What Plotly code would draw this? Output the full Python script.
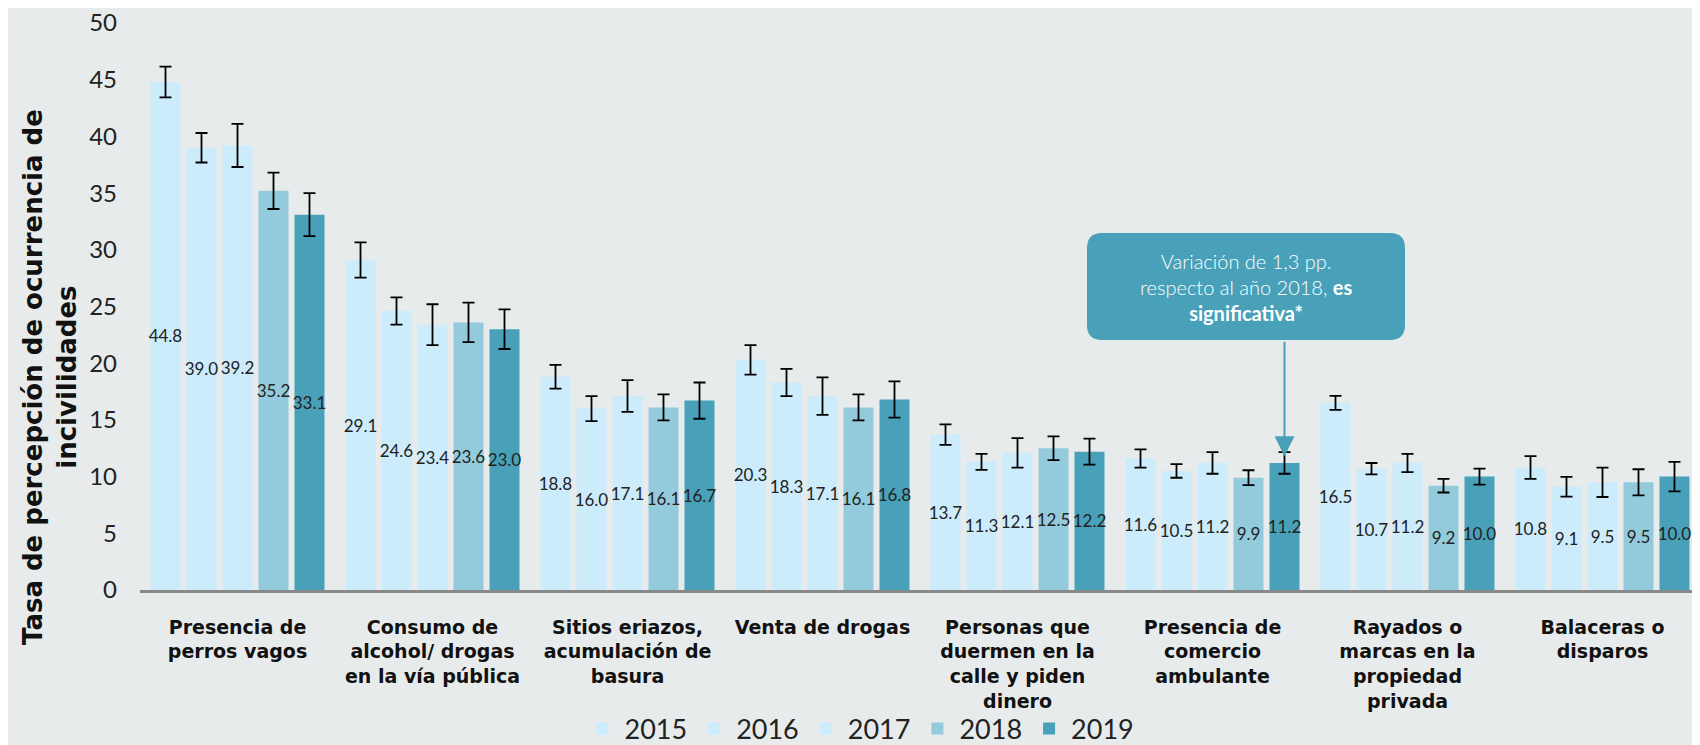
import plotly.graph_objects as go

# categories and series
categories = [
    "Presencia de<br>perros vagos",
    "Consumo de<br>alcohol/ drogas<br>en la vía pública",
    "Sitios eriazos,<br>acumulación de<br>basura",
    "Venta de drogas",
    "Personas que<br>duermen en la<br>calle y piden<br>dinero",
    "Presencia de<br>comercio<br>ambulante",
    "Rayados o<br>marcas en la<br>propiedad<br>privada",
    "Balaceras o<br>disparos",
]
years = ["2015", "2016", "2017", "2018", "2019"]

v2015 = [44.8, 29.1, 18.8, 20.3, 13.7, 11.6, 16.5, 10.8]
v2016 = [39.0, 24.6, 16.0, 18.3, 11.3, 10.5, 10.7, 9.1]
v2017 = [39.2, 23.4, 17.1, 17.1, 12.1, 11.2, 11.2, 9.5]
v2018 = [35.2, 23.6, 16.1, 16.1, 12.5, 9.9, 9.2, 9.5]
v2019 = [33.1, 23.0, 16.7, 16.8, 12.2, 11.2, 10.0, 10.0]

# half-width of the confidence intervals (error bars)
e2015 = [1.35, 1.55, 1.05, 1.3, 0.9, 0.8, 0.62, 1.0]
e2016 = [1.3, 1.2, 1.1, 1.2, 0.7, 0.6, 0.5, 0.87]
e2017 = [1.9, 1.8, 1.4, 1.65, 1.3, 0.95, 0.8, 1.3]
e2018 = [1.6, 1.75, 1.15, 1.15, 1.05, 0.66, 0.6, 1.15]
e2019 = [1.9, 1.75, 1.6, 1.6, 1.15, 0.95, 0.7, 1.3]

values = [v2015, v2016, v2017, v2018, v2019]
errors = [e2015, e2016, e2017, e2018, e2019]
colors = ["#CCEBFB", "#CCEBFB", "#CCEBFB", "#93CBDC", "#48A1B9"]

BG = "#E7EBEC"
TEAL = "#48A1B9"
BARGAP = 0.077

fig = go.Figure()
for year, vals, errs, col in zip(years, values, errors, colors):
    fig.add_trace(go.Bar(
        x=categories,
        y=vals,
        name=year,
        marker=dict(color=col, line=dict(width=0)),
        error_y=dict(type="data", array=errs, visible=True,
                     color="black", thickness=1.8, width=6),
        text=[f"{v:.1f}" for v in vals],
        textposition="inside",
        insidetextanchor="middle",
        textangle=0,
        constraintext="none",
        textfont=dict(family="Lato", size=17, color="#222222"),
    ))

# the page body adds an 8px offset, so the figure is a bit smaller
OFF = 8
W, H = 1700 - OFF, 745 - OFF
L, R, T, B = 140 - OFF, 0, 23 - OFF, 155
pw, ph = W - L - R, H - T - B


def to_paper(px, py):
    # screen pixel -> paper coordinates
    return (px - OFF - L) / pw, (H - B - (py - OFF)) / ph


# rounded callout box
x0, y1 = to_paper(1087, 233)
x1, y0 = to_paper(1405, 340)
rx, ry = 15 / pw, 15 / ph
box_path = (
    f"M {x0 + rx},{y1} L {x1 - rx},{y1} Q {x1},{y1} {x1},{y1 - ry} "
    f"L {x1},{y0 + ry} Q {x1},{y0} {x1 - rx},{y0} "
    f"L {x0 + rx},{y0} Q {x0},{y0} {x0},{y0 + ry} "
    f"L {x0},{y1 - ry} Q {x0},{y1} {x0 + rx},{y1} Z"
)
cx, cy = to_paper(1246, 287)
tx, ty = to_paper(50, 377)
lx, ly = to_paper(860, 729)

# x position of the 2019 bar inside the "comercio ambulante" group
slot = (1 - BARGAP) / len(years)
arrow_x = 5 - (1 - BARGAP) / 2 + slot * 4.5

fig.update_layout(
    width=W, height=H,
    paper_bgcolor=BG, plot_bgcolor=BG,
    margin=dict(l=L, r=R, t=T, b=B, autoexpand=False),
    barmode="group",
    bargap=BARGAP,
    bargroupgap=0.167,
    font=dict(family="Lato", color="#222222"),
    showlegend=True,
    legend=dict(
        orientation="h",
        x=lx, xanchor="center",
        y=ly, yanchor="middle",
        font=dict(family="Lato", size=27, color="#222222"),
        bgcolor="rgba(0,0,0,0)",
        itemwidth=34,
        traceorder="normal",
    ),
    xaxis=dict(
        showgrid=False,
        showline=True, linecolor="#898989", linewidth=2.5,
        ticks="",
        tickangle=0,
        automargin=False,
        ticklabelstandoff=18,
        tickfont=dict(family="DejaVu Sans", size=19, color="#111111", weight="bold"),
    ),
    yaxis=dict(
        range=[0, 50],
        tickvals=[0, 5, 10, 15, 20, 25, 30, 35, 40, 45, 50],
        showgrid=False,
        zeroline=False,
        showline=False,
        ticks="",
        automargin=False,
        ticklabeloverflow="allow",
        ticklabelstandoff=22,
        tickfont=dict(family="Lato", size=24, color="#222222"),
    ),
    shapes=[dict(type="path", xref="paper", yref="paper", path=box_path,
                 fillcolor=TEAL, line=dict(width=0), layer="above")],
    annotations=[
        dict(
            xref="paper", yref="paper", x=tx, y=ty,
            xanchor="center", yanchor="middle",
            text="<b>Tasa de percepción de ocurrencia de<br>incivilidades</b>",
            textangle=-90, showarrow=False,
            font=dict(family="DejaVu Sans", size=26, color="#111111"),
        ),
        dict(
            xref="paper", yref="paper", x=cx, y=cy,
            xanchor="center", yanchor="middle",
            text="Variación de 1,3 pp.<br>respecto al año 2018, <b>es</b><br><b>significativa*</b>",
            showarrow=False, align="center",
            font=dict(family="Lato", size=20, color="white", weight=300),
        ),
        dict(
            xref="x", yref="y", x=arrow_x, y=11.8,
            ax=0, ay=-116, text="",
            showarrow=True, arrowhead=2, arrowsize=2,
            arrowwidth=2, arrowcolor=TEAL,
        ),
    ],
)

fig.write_html("out.html")
